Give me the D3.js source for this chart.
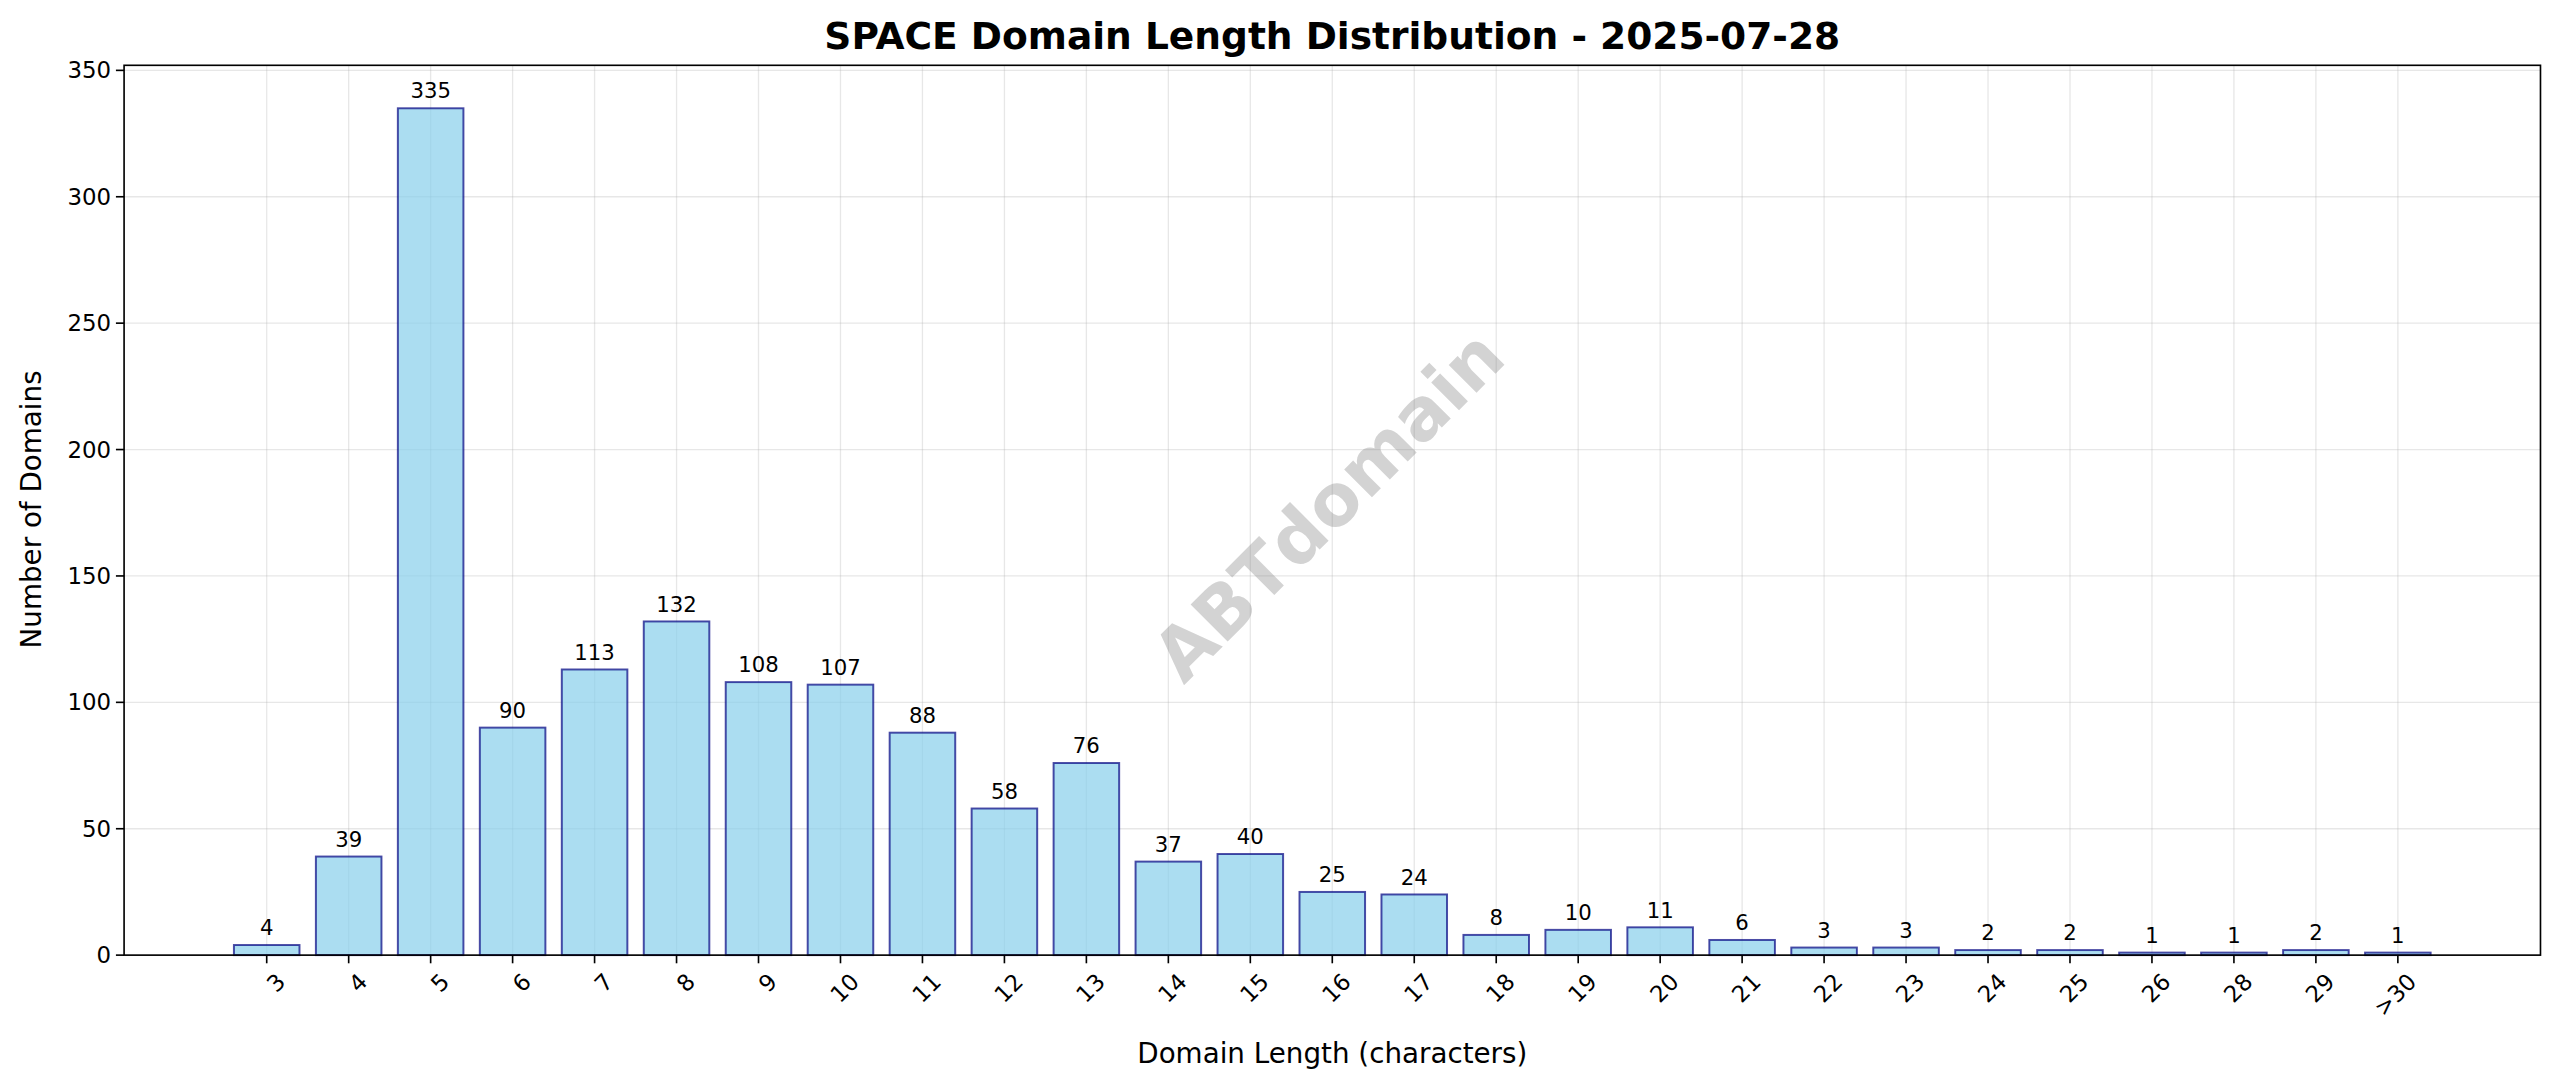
<!DOCTYPE html>
<html><head><meta charset="utf-8">
<script src="https://cdn.jsdelivr.net/npm/d3@7"></script>
<style>body{margin:0;background:#fff;font-family:"DejaVu Sans",sans-serif}</style>
</head><body><svg id="c" width="2560" height="1087"></svg>
<script>
const categories=["3","4","5","6","7","8","9","10","11","12","13","14","15","16","17","18","19","20","21","22","23","24","25","26","28","29",">30"];
const counts=[4,39,335,90,113,132,108,107,88,58,76,37,40,25,24,8,10,11,6,3,3,2,2,1,1,2,1];
const yTicks=[0,50,100,150,200,250,300,350];
const svg=d3.select("#c").append("g").attr("transform","scale(1.6327)");
const L=76,R=1556,T=40,B=585;
const x=d3.scaleLinear().domain([-1.74,27.74]).range([L,R]);
const y=d3.scaleLinear().domain([0,352]).range([B,T]);
const g=svg.append("g");
g.selectAll(".gx").data(categories).join("line").attr("x1",(d,i)=>x(i)).attr("x2",(d,i)=>x(i)).attr("y1",T).attr("y2",B).attr("stroke","#b0b0b0").attr("stroke-opacity",0.3).attr("stroke-width",0.8);
g.selectAll(".gy").data(yTicks).join("line").attr("x1",L).attr("x2",R).attr("y1",d=>y(d)).attr("y2",d=>y(d)).attr("stroke","#b0b0b0").attr("stroke-opacity",0.3).attr("stroke-width",0.8);
const bw=x(0.8)-x(0);
g.selectAll("rect.b").data(counts).join("rect").attr("x",(d,i)=>x(i-0.4)).attr("width",bw).attr("y",d=>y(d)).attr("height",d=>B-y(d)).attr("fill","#87CEEB").attr("fill-opacity",0.7).attr("stroke","#000080").attr("stroke-opacity",0.7).attr("stroke-width",1.2);
g.selectAll("text.v").data(counts).join("text").attr("x",(d,i)=>x(i)).attr("y",d=>y(d)-6).attr("text-anchor","middle").attr("font-size",13).text(d=>d);
svg.append("text").attr("transform","translate(816,312) rotate(-45)").attr("text-anchor","middle").attr("dominant-baseline","middle").attr("font-size",44).attr("font-weight","bold").attr("fill","#808080").attr("fill-opacity",0.35).text("ABTdomain");
svg.append("rect").attr("x",L).attr("y",T).attr("width",R-L).attr("height",B-T).attr("fill","none").attr("stroke","#000").attr("stroke-width",1);
yTicks.forEach(t=>{svg.append("line").attr("x1",L-5).attr("x2",L).attr("y1",y(t)).attr("y2",y(t)).attr("stroke","#000");
svg.append("text").attr("x",L-8).attr("y",y(t)).attr("dy","0.35em").attr("text-anchor","end").attr("font-size",14).text(t);});
categories.forEach((c,i)=>{svg.append("line").attr("x1",x(i)).attr("x2",x(i)).attr("y1",B).attr("y2",B+5).attr("stroke","#000");
svg.append("text").attr("transform",`translate(${x(i)+5},${B+10}) rotate(-45)`).attr("text-anchor","end").attr("dominant-baseline","hanging").attr("font-size",14).text(c);});
svg.append("text").attr("x",816).attr("y",651).attr("text-anchor","middle").attr("font-size",17).text("Domain Length (characters)");
svg.append("text").attr("transform","translate(25,312) rotate(-90)").attr("text-anchor","middle").attr("font-size",17).text("Number of Domains");
svg.append("text").attr("x",816).attr("y",30).attr("text-anchor","middle").attr("font-size",23).attr("font-weight","bold").text("SPACE Domain Length Distribution - 2025-07-28");
</script></body></html>
